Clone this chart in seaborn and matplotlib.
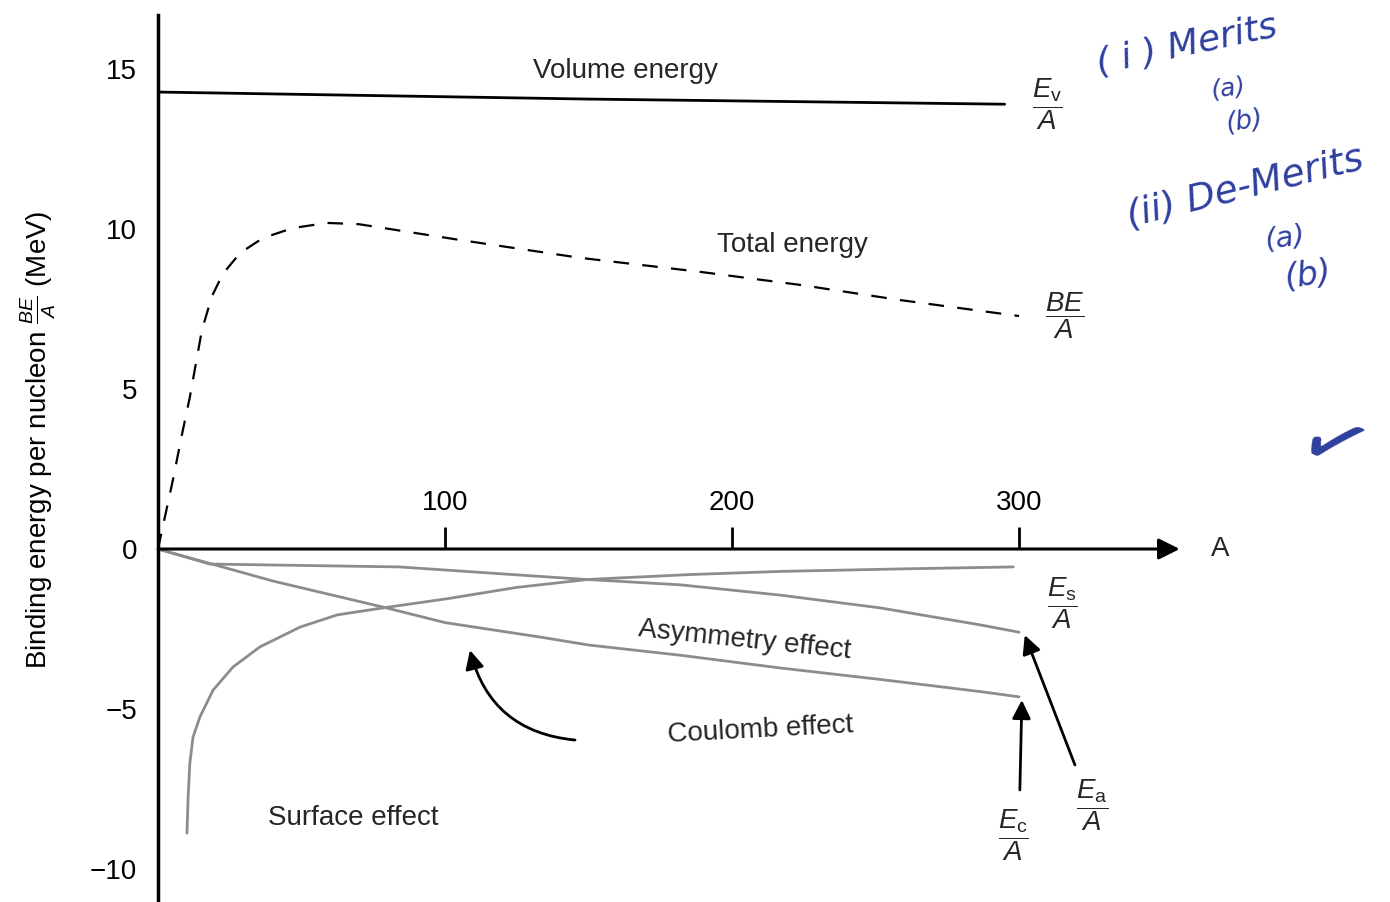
import numpy as np
import pandas as pd
import matplotlib
matplotlib.use("Agg")
import matplotlib.pyplot as plt
import seaborn as sns

# ---------------- data ----------------
A_vol = [0, 150, 295]
E_vol = [14.28, 14.06, 13.90]

A_tot = [0, 2.4, 5.2, 8.4, 11.1, 15.3, 18.8, 22.6, 28.6, 36.6, 47, 58.9, 70,
         105, 147, 189, 224, 258.5, 300]
E_tot = [0, 1.0, 2.16, 3.6, 4.75, 6.84, 7.9, 8.6, 9.25, 9.72, 10.03, 10.19, 10.15,
         9.66, 9.10, 8.66, 8.25, 7.78, 7.28]

A_surf = [10.1, 10.5, 11.1, 12.2, 14.6, 19.2, 26.1, 35.5, 49.5, 62.4, 78.4, 101,
          125, 150, 185, 217, 260, 298]
E_surf = [-8.88, -7.75, -6.69, -5.88, -5.25, -4.41, -3.69, -3.06, -2.44, -2.06, -1.84, -1.55,
          -1.20, -0.95, -0.80, -0.70, -0.62, -0.56]

A_asym = [0, 18, 84, 147, 182, 216.7, 251.6, 286.4, 300]
E_asym = [0, -0.47, -0.56, -0.94, -1.12, -1.44, -1.84, -2.37, -2.60]

A_coul = [0, 20, 40, 80, 100, 133, 150, 182, 217, 252, 286, 300]
E_coul = [0, -0.5, -1.0, -1.85, -2.3, -2.75, -3.0, -3.32, -3.72, -4.08, -4.45, -4.62]

x_ticks = [100, 200, 300]
y_ticks = [-10, -5, 0, 5, 10, 15]

# ---------------- style ----------------
sns.set_theme(style="white")
plt.rcParams['font.family'] = ['Liberation Sans', 'DejaVu Sans']
plt.rcParams['mathtext.fontset'] = 'custom'
plt.rcParams['mathtext.rm'] = 'Liberation Sans'
plt.rcParams['mathtext.it'] = 'Liberation Sans:italic'
plt.rcParams['mathtext.bf'] = 'Liberation Sans:bold'

W, H = 1390, 902
fig = plt.figure(figsize=(W / 100, H / 100), dpi=100)
x0px, y0px = 158, 549
pxA, pxE = 2.87, 32.0
ax = fig.add_axes([x0px / W, 0, 1 - x0px / W, 1])
ax.set_xlim(0, (W - x0px) / pxA)
ax.set_ylim(-(H - y0px) / pxE, y0px / pxE)

gray = '#8c8c8c'
sns.lineplot(x=A_vol, y=E_vol, ax=ax, color='black', lw=2.0, sort=False, estimator=None)
sns.lineplot(x=A_tot, y=E_tot, ax=ax, color='black', lw=1.6, sort=False, estimator=None)
ax.lines[-1].set_dashes([7, 6])
sns.lineplot(x=A_surf, y=E_surf, ax=ax, color=gray, lw=2.0, sort=False, estimator=None)
sns.lineplot(x=A_asym, y=E_asym, ax=ax, color=gray, lw=2.0, sort=False, estimator=None)
sns.lineplot(x=A_coul, y=E_coul, ax=ax, color=gray, lw=2.0, sort=False, estimator=None)

# ---------------- axes ----------------
for s in ['right', 'bottom']:
    ax.spines[s].set_visible(False)
ax.spines['left'].set_color('black')
ax.spines['left'].set_linewidth(2.5)
ax.spines['left'].set_bounds(ax.get_ylim()[0], 16.7)
ax.spines['top'].set_position(('data', 0))
ax.spines['top'].set_visible(False)
ax.xaxis.tick_top()
ax.set_xticks(x_ticks)
ax.set_xticklabels([str(v) for v in x_ticks])
ax.set_yticks(y_ticks)
ax.tick_params(axis='x', direction='out', length=16, width=2, labelsize=20, pad=8, colors='black')
ax.tick_params(axis='y', direction='in', length=13, width=2, labelsize=20, pad=15, colors='black')
ax.annotate('', xy=(356, 0), xytext=(0, 0),
            arrowprops=dict(arrowstyle='-|>', lw=2.2, color='black', mutation_scale=32,
                            shrinkA=0, shrinkB=0))
ax.text(370, 0, 'A', fontsize=20, ha='center', va='center')

ax.set_ylabel(r'Binding energy per nucleon $\frac{BE}{A}$ (MeV)', fontsize=20, color='black')
ax.yaxis.set_label_coords((58 - x0px) / (W - x0px), 1 - 440 / H)

# ---------------- labels ----------------
fs = 20
ax.text(163, 14.95, 'Volume energy', fontsize=fs, ha='center', va='center')
ax.text(221, 9.5, 'Total energy', fontsize=fs, ha='center', va='center')
ax.text(204.5, -2.84, 'Asymmetry effect', fontsize=fs, ha='center', va='center', rotation=-6)
ax.text(209.8, -5.66, 'Coulomb effect', fontsize=fs, ha='center', va='center', rotation=3)
ax.text(68, -8.4, 'Surface effect', fontsize=fs, ha='center', va='center')

ax.text(310, 13.9, r'$\dfrac{E_{\mathrm{v}}}{A}$', fontsize=fs, ha='center', va='center')
ax.text(316, 7.3, r'$\dfrac{BE}{A}$', fontsize=fs, ha='center', va='center')
ax.text(315, -1.7, r'$\dfrac{E_{\mathrm{s}}}{A}$', fontsize=fs, ha='center', va='center')
ax.text(325.4, -8.0, r'$\dfrac{E_{\mathrm{a}}}{A}$', fontsize=fs, ha='center', va='center')
ax.text(298, -8.94, r'$\dfrac{E_{\mathrm{c}}}{A}$', fontsize=fs, ha='center', va='center')

arr = dict(arrowstyle='-|>', lw=2.0, color='black', mutation_scale=28, shrinkA=0, shrinkB=0)
ax.annotate('', xy=(108.7, -3.16), xytext=(145.3, -5.97),
            arrowprops=dict(arr, connectionstyle='arc3,rad=-0.35'))
ax.annotate('', xy=(302, -2.69), xytext=(319.5, -6.75), arrowprops=arr)
ax.annotate('', xy=(301, -4.72), xytext=(300.3, -7.53), arrowprops=arr)

# ---------------- handwritten notes ----------------
blue = '#2f3f9f'
def note(px, py, s, size=22, rot=0, style='italic'):
    fig.text(px / W, 1 - py / H, s, fontsize=size, color=blue, ha='center', va='center',
             rotation=rot, style=style, family=['DejaVu Sans'])
note(1187, 45, '( i ) Merits', 26, 12)
note(1228, 88, '(a)', 18, 8)
note(1245, 122, '(b)', 19, 8)
note(1245, 188, '(ii) De-Merits', 27, 14)
note(1285, 238, '(a)', 21, 8)
note(1308, 275, '(b)', 24, 8)
note(1332, 452, '\u2713', 60, -25, 'normal')

fig.savefig('out.png', dpi=100)
